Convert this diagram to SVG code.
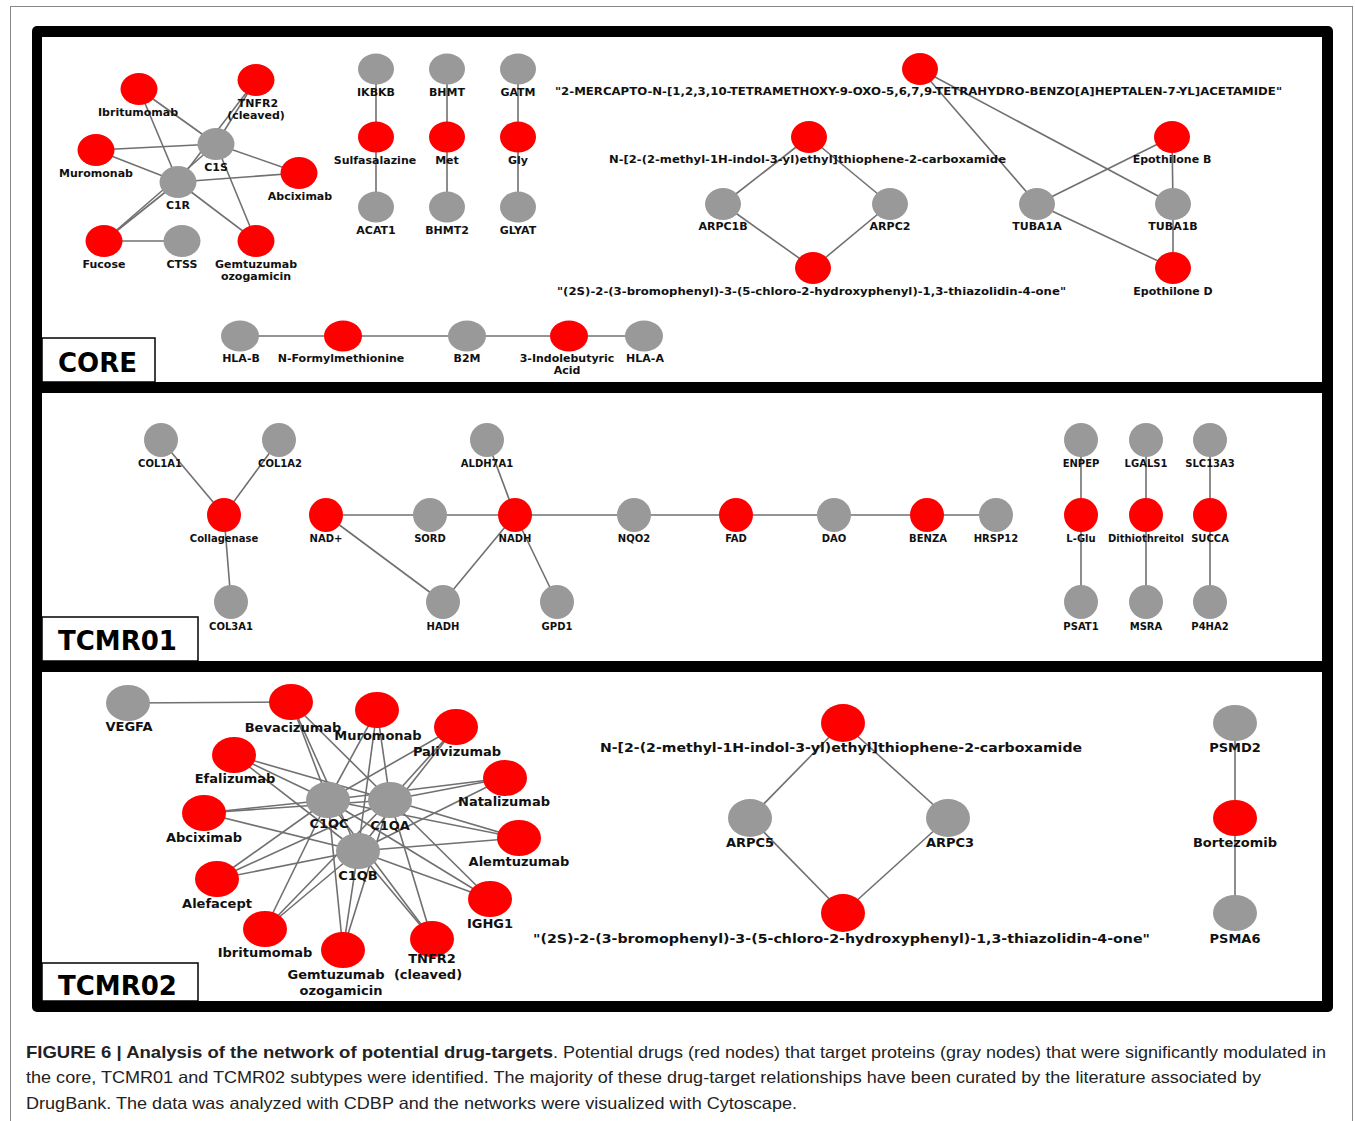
<svg xmlns="http://www.w3.org/2000/svg" width="1355" height="1121" viewBox="0 0 1355 1121">
<style>
.r{fill:#ff0000}
.g{fill:#999999}
.e line{stroke:#707070;stroke-width:1.6}
text{font-family:"DejaVu Sans",Verdana,sans-serif;font-weight:bold;fill:#111;text-anchor:middle}
.c text{font-size:11px}
.t1 text{font-size:10px}
.t2 text{font-size:13px}
text.s{text-anchor:start}
.box{fill:#fff;stroke:#000;stroke-width:1.5}
.title{font-size:26px;text-anchor:start;fill:#000}
.cap{font-family:"Liberation Sans",Arial,sans-serif;font-size:16.5px;font-weight:normal;text-anchor:start;fill:#222}
</style>
<rect x="0" y="0" width="1355" height="1121" fill="#fff"/>
<rect x="10.5" y="6.5" width="1342" height="1125" fill="none" stroke="#888" stroke-width="1"/>
<g id="frame">
<rect x="32" y="26" width="1301" height="986" rx="5" fill="#000"/>
<rect x="42" y="37" width="1280" height="345" fill="#fff"/>
<rect x="42" y="393" width="1280" height="268" fill="#fff"/>
<rect x="42" y="672" width="1280" height="329" fill="#fff"/>
</g>

<g id="connectors" class="e">
<!-- CORE -->
<line x1="139" y1="89" x2="216" y2="144"/>
<line x1="139" y1="89" x2="178" y2="182"/>
<line x1="256" y1="80" x2="216" y2="144"/>
<line x1="256" y1="80" x2="178" y2="182"/>
<line x1="96" y1="150" x2="216" y2="144"/>
<line x1="96" y1="150" x2="178" y2="182"/>
<line x1="299" y1="173" x2="216" y2="144"/>
<line x1="299" y1="173" x2="178" y2="182"/>
<line x1="104" y1="241" x2="178" y2="182"/>
<line x1="104" y1="241" x2="216" y2="144"/>
<line x1="256" y1="241" x2="216" y2="144"/>
<line x1="256" y1="241" x2="178" y2="182"/>
<line x1="104" y1="241" x2="182" y2="241"/>
<line x1="376" y1="69" x2="376" y2="207"/>
<line x1="447" y1="69" x2="447" y2="207"/>
<line x1="518" y1="69" x2="518" y2="207"/>
<line x1="920" y1="69" x2="1037" y2="204"/>
<line x1="920" y1="69" x2="1173" y2="204"/>
<line x1="809" y1="137" x2="723" y2="204"/>
<line x1="809" y1="137" x2="890" y2="204"/>
<line x1="723" y1="204" x2="813" y2="268"/>
<line x1="890" y1="204" x2="813" y2="268"/>
<line x1="1172" y1="137" x2="1037" y2="204"/>
<line x1="1172" y1="137" x2="1173" y2="204"/>
<line x1="1173" y1="268" x2="1037" y2="204"/>
<line x1="1173" y1="268" x2="1173" y2="204"/>
<line x1="240" y1="336" x2="644" y2="336"/>
<!-- TCMR01 -->
<line x1="161" y1="440" x2="224" y2="515"/>
<line x1="279" y1="440" x2="224" y2="515"/>
<line x1="224" y1="515" x2="231" y2="602"/>
<line x1="326" y1="515" x2="996" y2="515"/>
<line x1="326" y1="515" x2="443" y2="602"/>
<line x1="443" y1="602" x2="515" y2="515"/>
<line x1="487" y1="440" x2="515" y2="515"/>
<line x1="515" y1="515" x2="557" y2="602"/>
<line x1="1081" y1="440" x2="1081" y2="602"/>
<line x1="1146" y1="440" x2="1146" y2="602"/>
<line x1="1210" y1="440" x2="1210" y2="602"/>
<!-- TCMR02 -->
<line x1="128" y1="703" x2="291" y2="702"/>
<line x1="291" y1="702" x2="328" y2="800"/><line x1="291" y1="702" x2="390" y2="800"/><line x1="291" y1="702" x2="358" y2="851"/>
<line x1="377" y1="710" x2="328" y2="800"/><line x1="377" y1="710" x2="390" y2="800"/><line x1="377" y1="710" x2="358" y2="851"/>
<line x1="456" y1="727" x2="328" y2="800"/><line x1="456" y1="727" x2="390" y2="800"/><line x1="456" y1="727" x2="358" y2="851"/>
<line x1="234" y1="755" x2="328" y2="800"/><line x1="234" y1="755" x2="390" y2="800"/><line x1="234" y1="755" x2="358" y2="851"/>
<line x1="505" y1="778" x2="328" y2="800"/><line x1="505" y1="778" x2="390" y2="800"/><line x1="505" y1="778" x2="358" y2="851"/>
<line x1="204" y1="813" x2="328" y2="800"/><line x1="204" y1="813" x2="390" y2="800"/><line x1="204" y1="813" x2="358" y2="851"/>
<line x1="519" y1="838" x2="328" y2="800"/><line x1="519" y1="838" x2="390" y2="800"/><line x1="519" y1="838" x2="358" y2="851"/>
<line x1="217" y1="879" x2="328" y2="800"/><line x1="217" y1="879" x2="390" y2="800"/><line x1="217" y1="879" x2="358" y2="851"/>
<line x1="490" y1="899" x2="328" y2="800"/><line x1="490" y1="899" x2="390" y2="800"/><line x1="490" y1="899" x2="358" y2="851"/>
<line x1="265" y1="929" x2="328" y2="800"/><line x1="265" y1="929" x2="390" y2="800"/><line x1="265" y1="929" x2="358" y2="851"/>
<line x1="432" y1="939" x2="328" y2="800"/><line x1="432" y1="939" x2="390" y2="800"/><line x1="432" y1="939" x2="358" y2="851"/>
<line x1="343" y1="950" x2="328" y2="800"/><line x1="343" y1="950" x2="390" y2="800"/><line x1="343" y1="950" x2="358" y2="851"/>
<line x1="843" y1="723" x2="750" y2="818"/>
<line x1="843" y1="723" x2="948" y2="818"/>
<line x1="750" y1="818" x2="843" y2="913"/>
<line x1="948" y1="818" x2="843" y2="913"/>
<line x1="1235" y1="723" x2="1235" y2="913"/>
</g>

<!-- CORE nodes -->
<g class="c">
<g id="core-ibritumomab"><ellipse class="r" cx="139" cy="89" rx="18.5" ry="16"/><text x="138" y="116">Ibritumomab</text></g>
<g id="core-tnfr2"><ellipse class="r" cx="256" cy="80" rx="18.5" ry="16"/><text x="258" y="107">TNFR2</text><text x="256" y="119">(cleaved)</text></g>
<g id="core-c1s"><ellipse class="g" cx="216" cy="144" rx="18.5" ry="16"/><text x="216" y="171">C1S</text></g>
<g id="core-muromonab"><ellipse class="r" cx="96" cy="150" rx="18.5" ry="16"/><text x="96" y="177">Muromonab</text></g>
<g id="core-abciximab"><ellipse class="r" cx="299" cy="173" rx="18.5" ry="16"/><text x="300" y="200">Abciximab</text></g>
<g id="core-c1r"><ellipse class="g" cx="178" cy="182" rx="18.5" ry="16"/><text x="178" y="209">C1R</text></g>
<g id="core-fucose"><ellipse class="r" cx="104" cy="241" rx="18.5" ry="16"/><text x="104" y="268">Fucose</text></g>
<g id="core-ctss"><ellipse class="g" cx="182" cy="241" rx="18.5" ry="16"/><text x="182" y="268">CTSS</text></g>
<g id="core-gemtuzumab"><ellipse class="r" cx="256" cy="241" rx="18.5" ry="16"/><text x="256" y="268">Gemtuzumab</text><text x="256" y="280">ozogamicin</text></g>

<g id="core-ikbkb"><ellipse class="g" cx="376" cy="69" rx="18" ry="15.5"/><text x="376" y="96">IKBKB</text></g>
<g id="core-sulfasalazine"><ellipse class="r" cx="376" cy="137" rx="18" ry="15.5"/><text x="375" y="164">Sulfasalazine</text></g>
<g id="core-acat1"><ellipse class="g" cx="376" cy="207" rx="18" ry="15.5"/><text x="376" y="234">ACAT1</text></g>
<g id="core-bhmt"><ellipse class="g" cx="447" cy="69" rx="18" ry="15.5"/><text x="447" y="96">BHMT</text></g>
<g id="core-met"><ellipse class="r" cx="447" cy="137" rx="18" ry="15.5"/><text x="447" y="164">Met</text></g>
<g id="core-bhmt2"><ellipse class="g" cx="447" cy="207" rx="18" ry="15.5"/><text x="447" y="234">BHMT2</text></g>
<g id="core-gatm"><ellipse class="g" cx="518" cy="69" rx="18" ry="15.5"/><text x="518" y="96">GATM</text></g>
<g id="core-gly"><ellipse class="r" cx="518" cy="137" rx="18" ry="15.5"/><text x="518" y="164">Gly</text></g>
<g id="core-glyat"><ellipse class="g" cx="518" cy="207" rx="18" ry="15.5"/><text x="518" y="234">GLYAT</text></g>

<g id="core-mercapto"><ellipse class="r" cx="920" cy="69" rx="18" ry="16"/><text class="s" x="555" y="95" textLength="727" lengthAdjust="spacingAndGlyphs">"2-MERCAPTO-N-[1,2,3,10-TETRAMETHOXY-9-OXO-5,6,7,9-TETRAHYDRO-BENZO[A]HEPTALEN-7-YL]ACETAMIDE"</text></g>
<g id="core-thiophene"><ellipse class="r" cx="809" cy="137" rx="18" ry="16"/><text class="s" x="609" y="163" textLength="397" lengthAdjust="spacingAndGlyphs">N-[2-(2-methyl-1H-indol-3-yl)ethyl]thiophene-2-carboxamide</text></g>
<g id="core-arpc1b"><ellipse class="g" cx="723" cy="204" rx="18" ry="16"/><text x="723" y="230">ARPC1B</text></g>
<g id="core-arpc2"><ellipse class="g" cx="890" cy="204" rx="18" ry="16"/><text x="890" y="230">ARPC2</text></g>
<g id="core-thiazolidinone"><ellipse class="r" cx="813" cy="268" rx="18" ry="16"/><text class="s" x="557" y="295" textLength="509" lengthAdjust="spacingAndGlyphs">"(2S)-2-(3-bromophenyl)-3-(5-chloro-2-hydroxyphenyl)-1,3-thiazolidin-4-one"</text></g>
<g id="core-tuba1a"><ellipse class="g" cx="1037" cy="204" rx="18" ry="16"/><text x="1037" y="230">TUBA1A</text></g>
<g id="core-tuba1b"><ellipse class="g" cx="1173" cy="204" rx="18" ry="16"/><text x="1173" y="230">TUBA1B</text></g>
<g id="core-epothilone-b"><ellipse class="r" cx="1172" cy="137" rx="18" ry="16"/><text x="1172" y="163">Epothilone B</text></g>
<g id="core-epothilone-d"><ellipse class="r" cx="1173" cy="268" rx="18" ry="16"/><text x="1173" y="295">Epothilone D</text></g>

<g id="core-hla-b"><ellipse class="g" cx="240" cy="336" rx="19" ry="15.5"/><text x="241" y="362">HLA-B</text></g>
<g id="core-n-formylmethionine"><ellipse class="r" cx="343" cy="336" rx="19" ry="15.5"/><text x="341" y="362">N-Formylmethionine</text></g>
<g id="core-b2m"><ellipse class="g" cx="467" cy="336" rx="19" ry="15.5"/><text x="467" y="362">B2M</text></g>
<g id="core-indolebutyric"><ellipse class="r" cx="569" cy="336" rx="19" ry="15.5"/><text x="567" y="362">3-Indolebutyric</text><text x="567" y="374">Acid</text></g>
<g id="core-hla-a"><ellipse class="g" cx="644" cy="336" rx="19" ry="15.5"/><text x="645" y="362">HLA-A</text></g>
</g>

<!-- TCMR01 nodes -->
<g class="t1">
<g id="t1-col1a1"><circle class="g" cx="161" cy="440" r="17"/><text x="160" y="467">COL1A1</text></g>
<g id="t1-col1a2"><circle class="g" cx="279" cy="440" r="17"/><text x="280" y="467">COL1A2</text></g>
<g id="t1-collagenase"><circle class="r" cx="224" cy="515" r="17"/><text x="224" y="542">Collagenase</text></g>
<g id="t1-col3a1"><circle class="g" cx="231" cy="602" r="17"/><text x="231" y="630">COL3A1</text></g>
<g id="t1-nadp"><circle class="r" cx="326" cy="515" r="17"/><text x="326" y="542">NAD+</text></g>
<g id="t1-sord"><circle class="g" cx="430" cy="515" r="17"/><text x="430" y="542">SORD</text></g>
<g id="t1-nadh"><circle class="r" cx="515" cy="515" r="17"/><text x="515" y="542">NADH</text></g>
<g id="t1-aldh7a1"><circle class="g" cx="487" cy="440" r="17"/><text x="487" y="467">ALDH7A1</text></g>
<g id="t1-hadh"><circle class="g" cx="443" cy="602" r="17"/><text x="443" y="630">HADH</text></g>
<g id="t1-gpd1"><circle class="g" cx="557" cy="602" r="17"/><text x="557" y="630">GPD1</text></g>
<g id="t1-nqo2"><circle class="g" cx="634" cy="515" r="17"/><text x="634" y="542">NQO2</text></g>
<g id="t1-fad"><circle class="r" cx="736" cy="515" r="17"/><text x="736" y="542">FAD</text></g>
<g id="t1-dao"><circle class="g" cx="834" cy="515" r="17"/><text x="834" y="542">DAO</text></g>
<g id="t1-benza"><circle class="r" cx="927" cy="515" r="17"/><text x="928" y="542">BENZA</text></g>
<g id="t1-hrsp12"><circle class="g" cx="996" cy="515" r="17"/><text x="996" y="542">HRSP12</text></g>
<g id="t1-enpep"><circle class="g" cx="1081" cy="440" r="17"/><text x="1081" y="467">ENPEP</text></g>
<g id="t1-l-glu"><circle class="r" cx="1081" cy="515" r="17"/><text x="1081" y="542">L-Glu</text></g>
<g id="t1-psat1"><circle class="g" cx="1081" cy="602" r="17"/><text x="1081" y="630">PSAT1</text></g>
<g id="t1-lgals1"><circle class="g" cx="1146" cy="440" r="17"/><text x="1146" y="467">LGALS1</text></g>
<g id="t1-dithiothreitol"><circle class="r" cx="1146" cy="515" r="17"/><text x="1146" y="542">Dithiothreitol</text></g>
<g id="t1-msra"><circle class="g" cx="1146" cy="602" r="17"/><text x="1146" y="630">MSRA</text></g>
<g id="t1-slc13a3"><circle class="g" cx="1210" cy="440" r="17"/><text x="1210" y="467">SLC13A3</text></g>
<g id="t1-succa"><circle class="r" cx="1210" cy="515" r="17"/><text x="1210" y="542">SUCCA</text></g>
<g id="t1-p4ha2"><circle class="g" cx="1210" cy="602" r="17"/><text x="1210" y="630">P4HA2</text></g>
</g>

<!-- TCMR02 nodes -->
<g class="t2">
<g id="t2-vegfa"><ellipse class="g" cx="128" cy="703" rx="22" ry="18"/><text x="129" y="731">VEGFA</text></g>
<g id="t2-bevacizumab"><ellipse class="r" cx="291" cy="702" rx="22" ry="18"/><text x="293" y="732">Bevacizumab</text></g>
<g id="t2-muromonab"><ellipse class="r" cx="377" cy="710" rx="22" ry="18"/><text x="378" y="740">Muromonab</text></g>
<g id="t2-palivizumab"><ellipse class="r" cx="456" cy="727" rx="22" ry="18"/><text x="457" y="756">Palivizumab</text></g>
<g id="t2-efalizumab"><ellipse class="r" cx="234" cy="755" rx="22" ry="18"/><text x="235" y="783">Efalizumab</text></g>
<g id="t2-natalizumab"><ellipse class="r" cx="505" cy="778" rx="22" ry="18"/><text x="504" y="806">Natalizumab</text></g>
<g id="t2-c1qc"><ellipse class="g" cx="328" cy="800" rx="22" ry="18"/><text x="329" y="828">C1QC</text></g>
<g id="t2-c1qa"><ellipse class="g" cx="390" cy="800" rx="22" ry="18"/><text x="390" y="830">C1QA</text></g>
<g id="t2-abciximab"><ellipse class="r" cx="204" cy="813" rx="22" ry="18"/><text x="204" y="842">Abciximab</text></g>
<g id="t2-alemtuzumab"><ellipse class="r" cx="519" cy="838" rx="22" ry="18"/><text x="519" y="866">Alemtuzumab</text></g>
<g id="t2-c1qb"><ellipse class="g" cx="358" cy="851" rx="22" ry="18"/><text x="358" y="880">C1QB</text></g>
<g id="t2-alefacept"><ellipse class="r" cx="217" cy="879" rx="22" ry="18"/><text x="217" y="908">Alefacept</text></g>
<g id="t2-ighg1"><ellipse class="r" cx="490" cy="899" rx="22" ry="18"/><text x="490" y="928">IGHG1</text></g>
<g id="t2-ibritumomab"><ellipse class="r" cx="265" cy="929" rx="22" ry="18"/><text x="265" y="957">Ibritumomab</text></g>
<g id="t2-tnfr2"><ellipse class="r" cx="432" cy="939" rx="22" ry="18"/><text x="432" y="963">TNFR2</text><text x="428" y="979">(cleaved)</text></g>
<g id="t2-gemtuzumab"><ellipse class="r" cx="343" cy="950" rx="22" ry="18"/><text x="336" y="979">Gemtuzumab</text><text x="341" y="995">ozogamicin</text></g>

<g id="t2-thiophene"><ellipse class="r" cx="843" cy="723" rx="22" ry="19"/><text class="s" x="600" y="752" textLength="482" lengthAdjust="spacingAndGlyphs">N-[2-(2-methyl-1H-indol-3-yl)ethyl]thiophene-2-carboxamide</text></g>
<g id="t2-arpc5"><ellipse class="g" cx="750" cy="818" rx="22" ry="19"/><text x="750" y="847">ARPC5</text></g>
<g id="t2-arpc3"><ellipse class="g" cx="948" cy="818" rx="22" ry="19"/><text x="950" y="847">ARPC3</text></g>
<g id="t2-thiazolidinone"><ellipse class="r" cx="843" cy="913" rx="22" ry="19"/><text class="s" x="533" y="943" textLength="617" lengthAdjust="spacingAndGlyphs">"(2S)-2-(3-bromophenyl)-3-(5-chloro-2-hydroxyphenyl)-1,3-thiazolidin-4-one"</text></g>
<g id="t2-psmd2"><ellipse class="g" cx="1235" cy="723" rx="22" ry="18"/><text x="1235" y="752">PSMD2</text></g>
<g id="t2-bortezomib"><ellipse class="r" cx="1235" cy="818" rx="22" ry="18"/><text x="1235" y="847">Bortezomib</text></g>
<g id="t2-psma6"><ellipse class="g" cx="1235" cy="913" rx="22" ry="18"/><text x="1235" y="943">PSMA6</text></g>
</g>

<g id="labels">
<rect class="box" x="42" y="338" width="113" height="44"/>
<text class="title" x="58" y="372">CORE</text>
<rect class="box" x="42" y="617" width="156" height="44"/>
<text class="title" x="58" y="650">TCMR01</text>
<rect class="box" x="42" y="963" width="156" height="38"/>
<text class="title" x="58" y="995">TCMR02</text>
</g>

<g id="caption">
<text class="cap" x="26" y="1058" style="font-weight:bold" textLength="527" lengthAdjust="spacingAndGlyphs">FIGURE 6 | Analysis of the network of potential drug-targets</text>
<text class="cap" x="553" y="1058" textLength="773" lengthAdjust="spacingAndGlyphs">. Potential drugs (red nodes) that target proteins (gray nodes) that were significantly modulated in</text>
<text class="cap" x="26" y="1083" textLength="1235" lengthAdjust="spacingAndGlyphs">the core, TCMR01 and TCMR02 subtypes were identified. The majority of these drug-target relationships have been curated by the literature associated by</text>
<text class="cap" x="26" y="1109" textLength="771" lengthAdjust="spacingAndGlyphs">DrugBank. The data was analyzed with CDBP and the networks were visualized with Cytoscape.</text>
</g>
</svg>
